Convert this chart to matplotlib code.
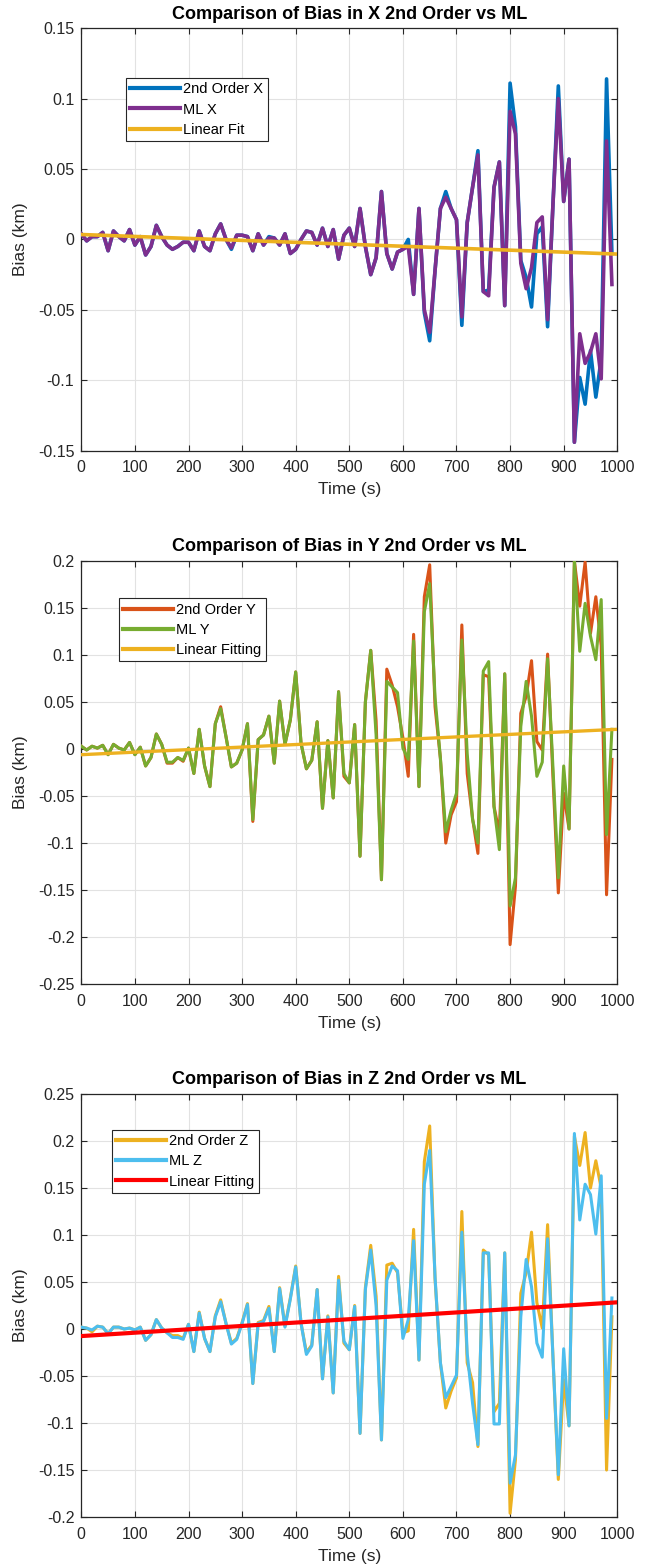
import numpy as np
import matplotlib
matplotlib.use("Agg")
import matplotlib.pyplot as plt
from matplotlib.ticker import FuncFormatter, MultipleLocator

plt.rcParams['font.family'] = ['Liberation Sans', 'DejaVu Sans']

# time stamps (s)
time_s = np.arange(0, 1000, 10)

# X bias (km)
ml_x = [0.004, -0.001, 0.002, 0.002, 0.005, -0.008, 0.006, 0.002, -0.001, 0.007,
        -0.004, 0.002, -0.011, -0.005, 0.010, 0.002, -0.004, -0.007, -0.005, -0.002,
        -0.002, -0.008, 0.006, -0.005, -0.008, 0.004, 0.011, 0.000, -0.006, 0.003,
        0.003, 0.002, -0.008, 0.004, -0.004, 0.001, 0.001, -0.004, 0.004, -0.010,
        -0.007, 0.000, 0.006, 0.005, -0.004, 0.008, -0.005, 0.007, -0.014, 0.003,
        0.008, -0.005, 0.022, -0.005, -0.025, -0.013, 0.034, -0.010, -0.021, -0.009,
        -0.007, -0.005, -0.039, 0.022, -0.050, -0.066, -0.022, 0.022, 0.030, 0.022,
        0.014, -0.055, 0.012, 0.037, 0.060, -0.037, -0.040, 0.037, 0.055, -0.047,
        0.091, 0.075, -0.017, -0.035, -0.020, 0.012, 0.016, -0.057, 0.025, 0.100,
        0.027, 0.057, -0.144, -0.067, -0.088, -0.080, -0.067, -0.099, 0.070, -0.032]
so_x = [0.004, -0.001, 0.002, 0.002, 0.005, -0.008, 0.006, 0.002, -0.001, 0.007,
        -0.004, 0.002, -0.011, -0.005, 0.010, 0.002, -0.004, -0.007, -0.005, -0.002,
        -0.002, -0.008, 0.006, -0.005, -0.008, 0.004, 0.011, 0.000, -0.007, 0.003,
        0.003, 0.002, -0.008, 0.004, -0.004, 0.002, 0.001, -0.004, 0.004, -0.010,
        -0.007, 0.000, 0.006, 0.005, -0.004, 0.008, -0.005, 0.007, -0.014, 0.003,
        0.008, -0.005, 0.022, -0.005, -0.025, -0.013, 0.034, -0.010, -0.021, -0.009,
        -0.007, 0.000, -0.039, 0.022, -0.052, -0.072, -0.022, 0.022, 0.034, 0.022,
        0.014, -0.061, 0.012, 0.037, 0.063, -0.037, -0.036, 0.037, 0.055, -0.047,
        0.111, 0.080, -0.015, -0.027, -0.048, 0.004, 0.009, -0.062, 0.025, 0.109,
        0.027, 0.057, -0.144, -0.098, -0.117, -0.079, -0.112, -0.085, 0.114, -0.010]

# Y bias (km)
ml_y = [0.003, -0.001, 0.003, 0.001, 0.004, -0.006, 0.005, 0.001, -0.001, 0.007,
        -0.006, 0.002, -0.018, -0.009, 0.016, 0.005, -0.014, -0.014, -0.009, -0.012,
        0.001, -0.026, 0.021, -0.018, -0.040, 0.027, 0.043, 0.013, -0.019, -0.015,
        -0.001, 0.027, -0.075, 0.010, 0.015, 0.035, -0.015, 0.051, 0.005, 0.031,
        0.082, 0.006, -0.021, -0.012, 0.029, -0.063, 0.009, -0.052, 0.061, -0.026,
        -0.036, 0.026, -0.114, 0.050, 0.105, 0.015, -0.139, 0.072, 0.066, 0.060,
        0.001, -0.011, 0.115, -0.040, 0.146, 0.176, 0.055, -0.010, -0.088, -0.065,
        -0.047, 0.116, -0.005, -0.075, -0.100, 0.083, 0.093, -0.061, -0.107, 0.080,
        -0.167, -0.137, 0.024, 0.072, 0.035, -0.029, -0.014, 0.096, -0.020, -0.137,
        -0.018, -0.085, 0.200, 0.104, 0.155, 0.120, 0.095, 0.159, -0.091, 0.021]
so_y = [0.003, -0.001, 0.003, 0.001, 0.004, -0.006, 0.005, 0.001, -0.001, 0.007,
        -0.006, 0.002, -0.018, -0.009, 0.016, 0.005, -0.015, -0.015, -0.009, -0.013,
        0.001, -0.026, 0.021, -0.018, -0.040, 0.027, 0.045, 0.013, -0.019, -0.015,
        -0.001, 0.027, -0.077, 0.010, 0.015, 0.035, -0.015, 0.051, 0.005, 0.031,
        0.082, 0.006, -0.021, -0.012, 0.029, -0.063, 0.009, -0.052, 0.061, -0.029,
        -0.036, 0.026, -0.114, 0.050, 0.105, 0.030, -0.139, 0.085, 0.068, 0.045,
        0.012, -0.029, 0.122, -0.040, 0.162, 0.196, 0.045, -0.010, -0.100, -0.070,
        -0.056, 0.132, -0.026, -0.074, -0.111, 0.079, 0.077, -0.061, -0.090, 0.080,
        -0.208, -0.146, 0.038, 0.056, 0.094, 0.008, -0.001, 0.101, -0.030, -0.153,
        -0.047, -0.085, 0.200, 0.152, 0.199, 0.123, 0.162, 0.110, -0.155, -0.011]

# Z bias (km)
ml_z = [0.002, 0.001, -0.001, 0.003, 0.002, -0.005, 0.002, 0.002, 0.000, 0.001,
        -0.001, 0.002, -0.012, -0.006, 0.010, 0.001, -0.004, -0.009, -0.009, -0.011,
        0.005, -0.024, 0.017, -0.010, -0.024, 0.013, 0.029, 0.006, -0.016, -0.011,
        0.006, 0.026, -0.058, 0.006, 0.008, 0.022, -0.024, 0.043, 0.002, 0.032,
        0.066, 0.006, -0.027, -0.018, 0.042, -0.053, 0.013, -0.068, 0.052, -0.013,
        -0.022, 0.024, -0.111, 0.042, 0.084, 0.025, -0.118, 0.052, 0.067, 0.062,
        -0.010, 0.010, 0.094, -0.033, 0.154, 0.190, 0.055, -0.036, -0.073, -0.061,
        -0.049, 0.103, -0.026, -0.079, -0.123, 0.081, 0.081, -0.101, -0.101, 0.081,
        -0.164, -0.134, 0.013, 0.074, 0.045, -0.015, -0.030, 0.096, -0.030, -0.155,
        -0.021, -0.103, 0.208, 0.116, 0.154, 0.143, 0.101, 0.163, -0.095, 0.033]
so_z = [0.002, 0.001, -0.003, 0.003, 0.002, -0.005, 0.002, 0.002, 0.000, 0.001,
        -0.001, 0.002, -0.012, -0.006, 0.010, 0.001, -0.004, -0.007, -0.007, -0.010,
        0.005, -0.024, 0.018, -0.010, -0.024, 0.014, 0.031, 0.006, -0.015, -0.010,
        0.007, 0.027, -0.058, 0.007, 0.009, 0.024, -0.024, 0.044, 0.003, 0.033,
        0.067, 0.006, -0.025, -0.017, 0.042, -0.053, 0.014, -0.068, 0.056, -0.015,
        -0.022, 0.025, -0.111, 0.044, 0.089, 0.035, -0.118, 0.068, 0.070, 0.060,
        -0.004, -0.002, 0.106, -0.033, 0.178, 0.216, 0.053, -0.036, -0.084, -0.066,
        -0.052, 0.125, -0.036, -0.057, -0.125, 0.084, 0.079, -0.088, -0.079, 0.081,
        -0.196, -0.139, 0.038, 0.060, 0.103, 0.028, 0.001, 0.111, -0.030, -0.160,
        -0.054, -0.103, 0.205, 0.174, 0.209, 0.150, 0.179, 0.150, -0.150, 0.013]

# linear fit coefficients (slope, intercept)
fit_x = [-1.39e-5, 0.0035]
fit_y = [2.7e-5, -0.006]
fit_z = [3.59e-5, -0.0075]
fit_t = np.array([0, 1000])

panels = [
    dict(title='Comparison of Bias in X 2nd Order vs ML', so=so_x, ml=ml_x, fit=fit_x,
         labels=['2nd Order X', 'ML X', 'Linear Fit'],
         colors=['#0072BD', '#7E2F8E', '#EDB120'], lw=2.6, fitlw=2.6,
         ylim=(-0.15, 0.15), rect=[0.1249, 0.7126, 0.8233, 0.2694], leg=(0.083, 0.882)),
    dict(title='Comparison of Bias in Y 2nd Order vs ML', so=so_y, ml=ml_y, fit=fit_y,
         labels=['2nd Order Y', 'ML Y', 'Linear Fitting'],
         colors=['#D95319', '#77AC30', '#EDB120'], lw=2.2, fitlw=2.4,
         ylim=(-0.25, 0.2), rect=[0.1249, 0.3724, 0.8233, 0.2698], leg=(0.070, 0.912)),
    dict(title='Comparison of Bias in Z 2nd Order vs ML', so=so_z, ml=ml_z, fit=fit_z,
         labels=['2nd Order Z', 'ML Z', 'Linear Fitting'],
         colors=['#EDB120', '#4DBEEE', '#FF0000'], lw=2.2, fitlw=3.0,
         ylim=(-0.2, 0.25), rect=[0.1249, 0.0325, 0.8233, 0.2698], leg=(0.0565, 0.915)),
]

def fmt(v, pos):
    v = round(v, 4)
    if v == 0:
        return '0'
    return f'{v:g}'

fig = plt.figure(figsize=(6.51, 15.68), dpi=100)

for p in panels:
    ax = fig.add_axes(p['rect'])
    ax.plot(time_s, p['so'], color=p['colors'][0], lw=p['lw'], label=p['labels'][0], zorder=3)
    ax.plot(time_s, p['ml'], color=p['colors'][1], lw=p['lw'], label=p['labels'][1], zorder=4)
    ax.plot(fit_t, np.polyval(p['fit'], fit_t), color=p['colors'][2], lw=p['fitlw'],
            label=p['labels'][2], zorder=5)

    ax.set_xlim(0, 1000)
    ax.set_ylim(*p['ylim'])
    ax.xaxis.set_major_locator(MultipleLocator(100))
    ax.yaxis.set_major_locator(MultipleLocator(0.05))
    ax.yaxis.set_major_formatter(FuncFormatter(fmt))
    ax.grid(True, color='#e2e2e2', lw=0.8)
    ax.set_axisbelow(True)
    ax.tick_params(direction='in', top=True, right=True, length=4.5, width=0.8,
                   labelsize=11.5, colors='#262626')
    ax.tick_params(axis='x', pad=7)
    ax.tick_params(axis='y', pad=5)
    for s in ax.spines.values():
        s.set_linewidth(0.9)
        s.set_color('#262626')

    ax.set_title(p['title'], fontsize=13, fontweight='bold', pad=7)
    ax.set_xlabel('Time (s)', fontsize=12.5, color='#262626', labelpad=5)
    ax.set_ylabel('Bias (km)', fontsize=12.5, color='#262626', labelpad=7)

    leg = ax.legend(loc='upper left', bbox_to_anchor=p['leg'], fontsize=10.5,
                    handlelength=3.4, handletextpad=0.25, labelspacing=0.42,
                    borderpad=0.3, borderaxespad=0, fancybox=False, framealpha=1)
    leg.get_frame().set_edgecolor('#262626')
    leg.get_frame().set_linewidth(0.8)
    for line in leg.get_lines():
        line.set_linewidth(3)

fig.savefig('out.png', dpi=100)
